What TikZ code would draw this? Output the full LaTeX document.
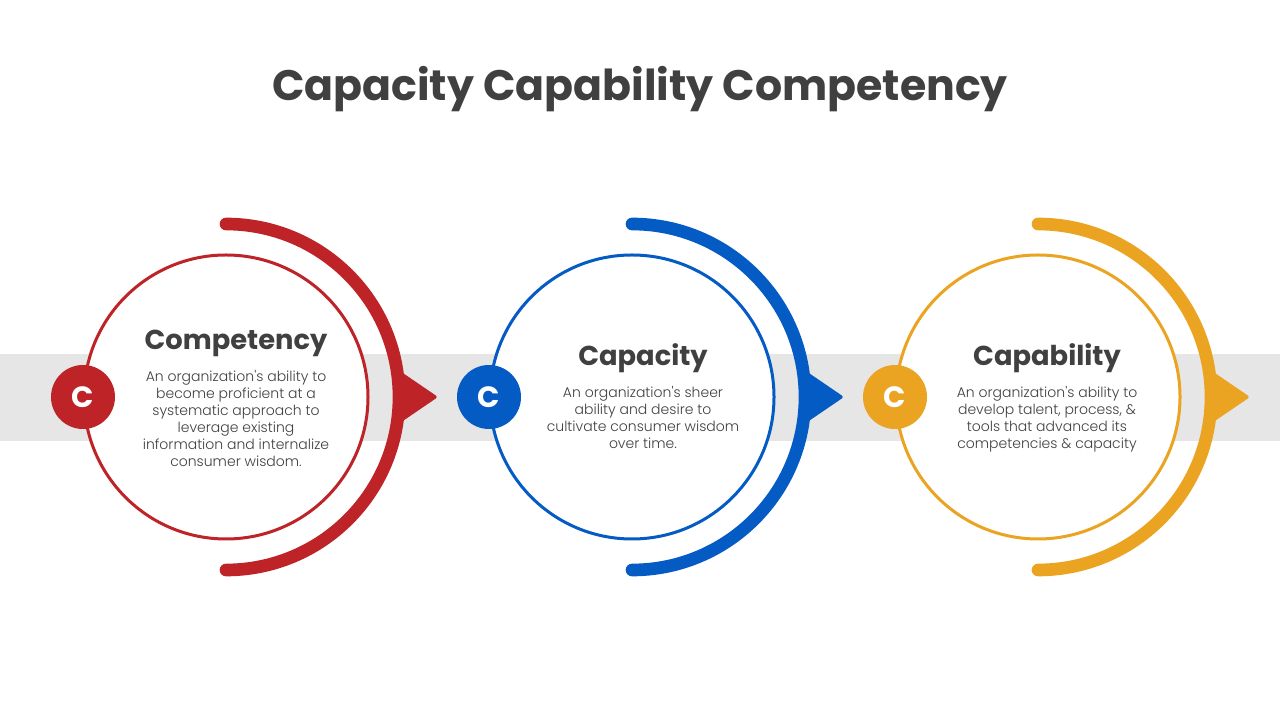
\documentclass[tikz,border=0pt]{standalone}
\usepackage{fontspec}
\setmainfont{Poppins}
\newfontfamily\bodyfont{Poppins}[UprightFont=* Light]
\usetikzlibrary{positioning}
\definecolor{redc}{HTML}{BE2328}
\definecolor{bluec}{HTML}{055BC4}
\definecolor{orangec}{HTML}{EBA322}
\definecolor{band}{HTML}{E6E6E6}
\definecolor{txt}{HTML}{404040}

\begin{document}
\begin{tikzpicture}[x=0.75pt,y=0.75pt,
    ring/.style={circle, draw=#1, line width=2.25pt, fill=white, minimum size=213pt, inner sep=0pt},
    halo/.style={draw=#1, line width=9.5pt, line cap=round},
    badge/.style={circle, fill=#1, minimum size=48pt, inner sep=0pt, text=white, font=\bfseries\fontsize{22}{26}\selectfont},
    head/.style={text=txt, font=\bfseries\fontsize{20.5}{25}\selectfont},
    body/.style={text=txt, align=center, inner sep=0pt, font=\bodyfont\fontsize{10.5}{12.75}\selectfont}]
    \useasboundingbox (0,0) rectangle (1280,720);
    % title
    \node[text=txt, anchor=base, font=\bfseries\fontsize{32}{38}\selectfont] (title) at (640,619) {Capacity Capability Competency};
    % grey band
    \fill[band] (0,279) rectangle (1280,366);
    % rings, arcs and arrow tips
    \foreach \cx/\col/\n in {226/redc/a, 632/bluec/b, 1038/orangec/c} {
      \draw[halo=\col] (\cx,496) arc[start angle=90, end angle=-90, radius=173];
      \fill[\col, rounded corners=2pt] (\cx+168,353) -- (\cx+212,323) -- (\cx+168,293) -- cycle;
      \node[ring=\col] (ring\n) at (\cx,323) {};
      \node[badge=\col] (badge\n) at (\cx-143,323) {C};
    }
    % texts
    \node[head, anchor=base] (heada) at (236,370) {Competency};
    \node[body, below=6pt of heada] (bodya) {An organization's ability to\\become proficient at a\\systematic approach to\\leverage existing\\information and internalize\\consumer wisdom.};
    \node[head, anchor=base] (headb) at (643,354) {Capacity};
    \node[body, below=6pt of headb] (bodyb) {An organization's sheer\\ability and desire to\\cultivate consumer wisdom\\over time.};
    \node[head, anchor=base] (headc) at (1047,354) {Capability};
    \node[body, below=6pt of headc] (bodyc) {An organization's ability to\\develop talent, process, \&\\tools that advanced its\\competencies \& capacity};
\end{tikzpicture}
\end{document}
